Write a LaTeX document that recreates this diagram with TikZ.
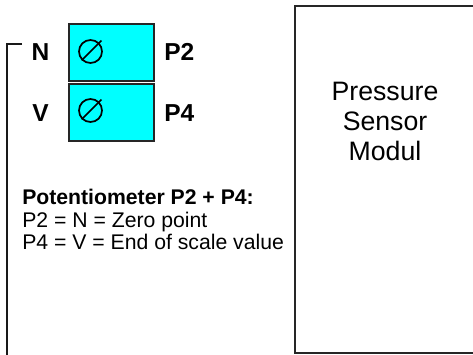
\documentclass[tikz,border=0pt]{standalone}
\usepackage{fontspec}
\setmainfont{Liberation Sans}
\definecolor{potcyan}{RGB}{0,255,255}
\begin{document}
\begin{tikzpicture}[x=0.75pt,y=-0.75pt,
  potbox/.style={draw=black!85,line width=1.2pt,fill=potcyan,minimum width=63.75pt,minimum height=42.75pt,inner sep=0pt,anchor=north west},
  biglbl/.style={font=\fontsize{18.4}{20}\selectfont\bfseries,anchor=base,inner sep=0pt},
  infotxt/.style={font=\fontsize{15.9}{17}\selectfont,anchor=base west,inner sep=0pt},
  wire/.style={line width=0.9pt,black!90},
  knob/.style={line width=1.3pt}]
\useasboundingbox (0,0) rectangle (473,354);
\begin{scope}
\clip (0,0) rectangle (473,354);
% sensor module
\node[draw=black!85,line width=1.2pt,minimum width=150pt,minimum height=260.5pt,anchor=north west,inner sep=0pt] (sensor) at (294,5) {};
\node[font=\fontsize{20}{22.5}\selectfont,align=center,anchor=base,inner sep=0pt] (sensortxt) at (385,160) {Pressure\\Sensor\\Modul};
% bracket
\coordinate (bt) at (22,44);
\coordinate (bc) at (7,44);
\coordinate (bb) at (7,356);
\draw[wire] (bt) -- (bc) -- (bb);
\end{scope}
% potentiometer boxes
\node[potbox] (p2box) at (68,23) {};
\node[potbox] (p4box) at (68,83) {};
% knob symbols
\foreach \c in {(90.5,51.5),(90.5,110.5)}{
  \draw[knob] \c circle (11.5);
  \draw[knob] \c ++(135:12.5) -- ++(-45:28);
}
% labels
\node[biglbl] (N) at (40.5,60) {N};
\node[biglbl] (V) at (40.5,121) {V};
\node[biglbl,anchor=base west] (P2) at (164,60) {P2};
\node[biglbl,anchor=base west] (P4) at (164,121) {P4};
% info text
\node[infotxt,font=\fontsize{15.9}{17}\selectfont\bfseries] (t1) at (22,204) {Potentiometer P2 + P4:};
\node[infotxt] (t2) at (22,227) {P2 = N = Zero point};
\node[infotxt] (t3) at (22,249.5) {P4 = V = End of scale value};
\end{tikzpicture}
\end{document}
